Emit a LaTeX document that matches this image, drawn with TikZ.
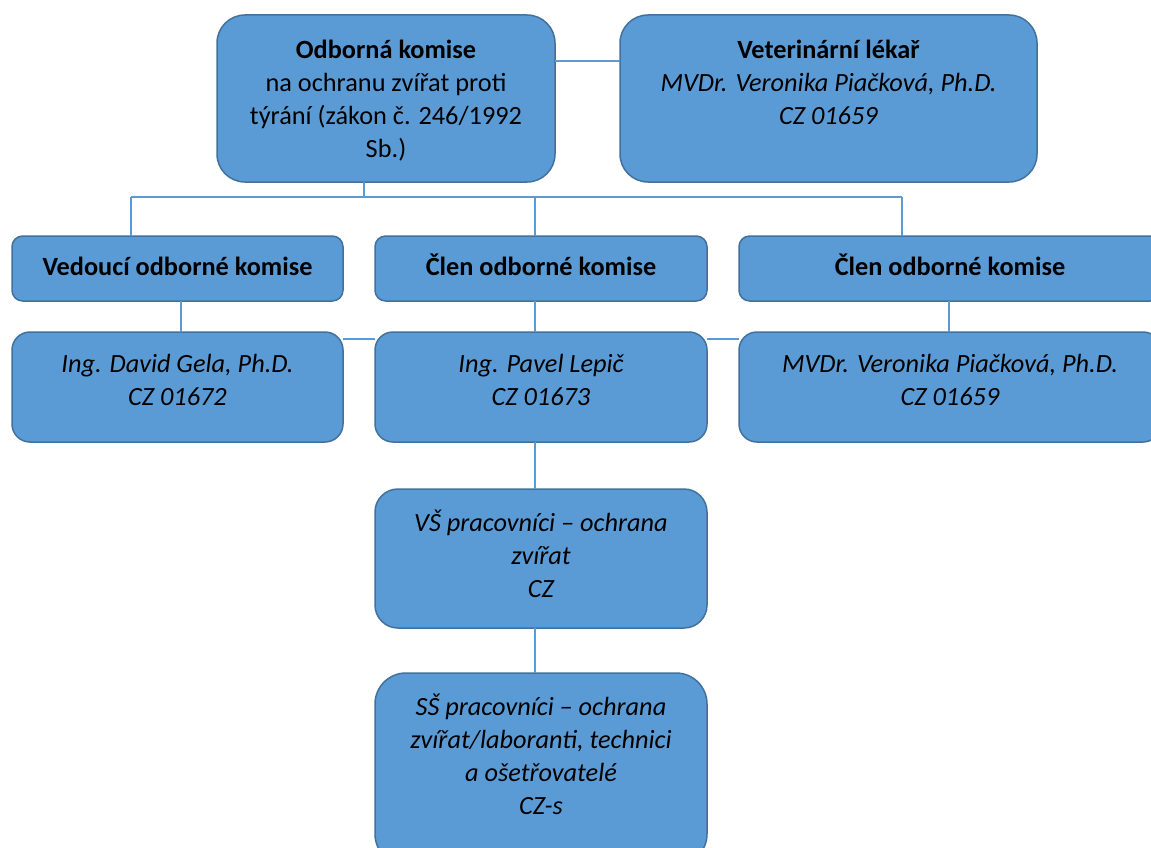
\documentclass[tikz,border=0pt]{standalone}
\usepackage{fontspec}
\setmainfont{Carlito}
\definecolor{boxfill}{HTML}{5B9BD5}
\definecolor{boxline}{HTML}{41719C}
\definecolor{connline}{HTML}{5B9BD5}
\tikzset{
  box/.style={draw=boxline, fill=boxfill, line width=1.5pt, inner sep=0pt, outer sep=0pt, anchor=north west},
  txt/.style={anchor=north, inner sep=0pt, align=center, text=black, font=\fontsize{26.3}{33}\selectfont},
  txti/.style={txt, font=\fontsize{26.3}{33}\selectfont\itshape},
  conn/.style={draw=connline, line width=1.2pt},
}
\begin{document}
\begin{tikzpicture}[x=1pt,y=-1pt]
\useasboundingbox (0,0) rectangle (1151,848);
\fill[white] (0,0) rectangle (1151,848);
\clip (0,0) rectangle (1151,848);

% boxes
\node[box, minimum width=338pt, minimum height=167pt, rounded corners=28pt] (ok) at (217,15) {};
\node[box, minimum width=417pt, minimum height=167pt, rounded corners=28pt] (vet) at (620,15) {};
\node[box, minimum width=331pt, minimum height=65pt, rounded corners=10.7pt] (ved) at (12,236) {};
\node[box, minimum width=332pt, minimum height=65pt, rounded corners=10.7pt] (clen1) at (375,236) {};
\node[box, minimum width=422pt, minimum height=65pt, rounded corners=10.7pt] (clen2) at (739,236) {};
\node[box, minimum width=331pt, minimum height=110pt, rounded corners=18pt] (gela) at (12,332) {};
\node[box, minimum width=332pt, minimum height=110pt, rounded corners=18pt] (lepic) at (375,332) {};
\node[box, minimum width=422pt, minimum height=110pt, rounded corners=18pt] (mvdr) at (739,332) {};
\node[box, minimum width=332pt, minimum height=139pt, rounded corners=23pt] (vs) at (375,489) {};
\node[box, minimum width=332pt, minimum height=192pt, rounded corners=31pt] (ss) at (375,673) {};

% connector helpers
\coordinate (topl) at (0,61);
\coordinate (bus) at (0,197);
\coordinate (mid) at (0,339);

\draw[conn] (ok.east |- topl) -- (vet.west |- topl);
\draw[conn] ([xshift=-22pt]ok.south) -- ([xshift=-22pt]ok.south |- bus);
\draw[conn] ([xshift=-46.5pt]ved.north |- bus) -- ([xshift=-48pt]clen2.north |- bus);
\draw[conn] ([xshift=-46.5pt]ved.north |- bus) -- ([xshift=-46.5pt]ved.north);
\draw[conn] ([xshift=-6pt]clen1.north |- bus) -- ([xshift=-6pt]clen1.north);
\draw[conn] ([xshift=-48pt]clen2.north |- bus) -- ([xshift=-48pt]clen2.north);
\draw[conn] ([xshift=3.5pt]ved.south) -- ([xshift=3.5pt]gela.north);
\draw[conn] ([xshift=-6pt]clen1.south) -- ([xshift=-6pt]lepic.north);
\draw[conn] ([xshift=-1pt]clen2.south) -- ([xshift=-1pt]mvdr.north);
\draw[conn] (gela.east |- mid) -- (lepic.west |- mid);
\draw[conn] (lepic.east |- mid) -- (mvdr.west |- mid);
\draw[conn] ([xshift=-6pt]lepic.south) -- ([xshift=-6pt]vs.north);
\draw[conn] ([xshift=-6pt]vs.south) -- ([xshift=-6pt]ss.north);

% texts
\node[txt] (okt) at ([yshift=-19.9pt]ok.north) {\strut\textbf{Odborná komise}\\na ochranu zvířat proti\\týrání (zákon č. 246/1992\\Sb.)};
\node[txt] (vett) at ([yshift=-19.9pt]vet.north) {\strut\textbf{Veterinární lékař}\\\textit{MVDr. Veronika Piačková, Ph.D.}\\\textit{CZ 01659}};
\node[txt] (vedt) at ([yshift=-15.9pt]ved.north) {\strut\textbf{Vedoucí odborné komise}};
\node[txt] (clen1t) at ([yshift=-15.9pt]clen1.north) {\strut\textbf{Člen odborné komise}};
\node[txt] (clen2t) at ([yshift=-15.9pt]clen2.north) {\strut\textbf{Člen odborné komise}};
\node[txti] (gelat) at ([yshift=-16.9pt]gela.north) {\strut Ing. David Gela, Ph.D.\\CZ 01672};
\node[txti] (lepict) at ([yshift=-16.9pt]lepic.north) {\strut Ing. Pavel Lepič\\CZ 01673};
\node[txti] (mvdrt) at ([yshift=-16.9pt]mvdr.north) {\strut MVDr. Veronika Piačková, Ph.D.\\CZ 01659};
\node[txti] (vst) at ([yshift=-18.9pt]vs.north) {\strut VŠ pracovníci – ochrana\\zvířat\\CZ};
\node[txti] (sst) at ([yshift=-18.9pt]ss.north) {\strut SŠ pracovníci – ochrana\\zvířat/laboranti, technici\\a ošetřovatelé\\CZ-s};
\end{tikzpicture}
\end{document}
